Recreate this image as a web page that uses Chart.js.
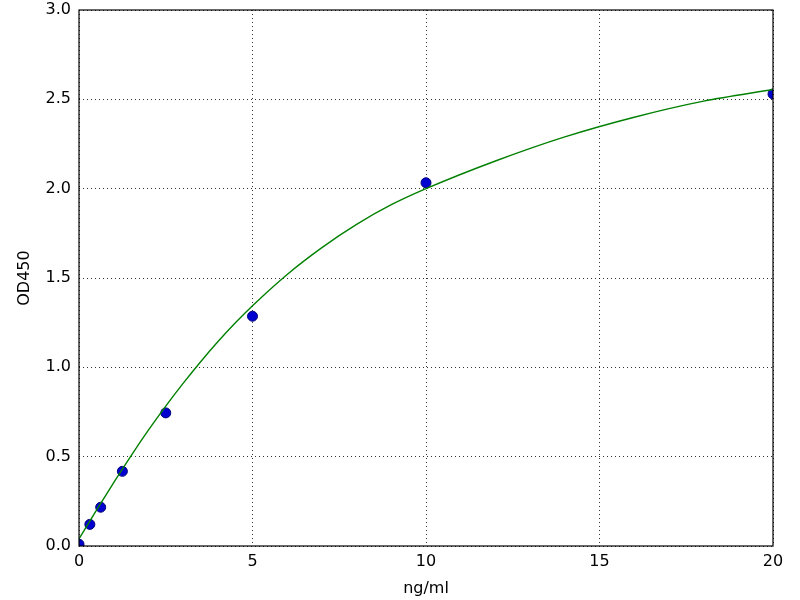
<!DOCTYPE html>
<html>
<head>
<meta charset="utf-8">
<script src="https://cdn.jsdelivr.net/npm/chart.js@4/dist/chart.umd.min.js"></script>
<style>
  html, body { margin: 0; padding: 0; background: #fff; }
  #wrap { width: 800px; height: 600px; }
</style>
</head>
<body>
<div id="wrap"><canvas id="stdCurve"></canvas></div>
<script>
// measured standards (ng/ml vs OD450)
const standardConc = [0, 0.3125, 0.625, 1.25, 2.5, 5, 10, 20];
const standardOD = [0.01, 0.121, 0.217, 0.418, 0.745, 1.286, 2.033, 2.53];

// fitted curve
const fitConc = [0, 0.5, 1, 1.5, 2, 2.5, 3, 3.5, 4, 4.5, 5, 6, 7, 8, 9, 10, 12, 14, 16, 18, 20];
const fitOD = [0.04, 0.20, 0.355, 0.505, 0.648, 0.783, 0.91, 1.03, 1.143, 1.248, 1.345, 1.52,
               1.67, 1.80, 1.91, 2.00, 2.155, 2.29, 2.40, 2.49, 2.555];

const xTicks = [0, 5, 10, 15, 20];
const yTicks = [0, 0.5, 1.0, 1.5, 2.0, 2.5, 3.0];

const tickFont = { family: "'DejaVu Sans', sans-serif", size: 16, lineHeight: 1.2 };

// black frame round the plot area, like matplotlib's spines
const framePlugin = {
    id: 'frame',
    afterDraw(chart) {
        const { ctx, chartArea: a } = chart;
        ctx.save();
        ctx.strokeStyle = '#000';
        ctx.lineWidth = 1.2;
        ctx.strokeRect(a.left, a.top, a.right - a.left, a.bottom - a.top);
        ctx.restore();
    }
};

new Chart(document.getElementById('stdCurve'), {
    type: 'scatter',
    data: {
        datasets: [
            {
                label: 'fit',
                data: fitConc.map((x, i) => ({ x: x, y: fitOD[i] })),
                showLine: true,
                borderColor: '#008000',
                borderWidth: 1.4,
                pointRadius: 0,
                cubicInterpolationMode: 'monotone',
                clip: 0,
                order: 1
            },
            {
                label: 'standards',
                data: standardConc.map((x, i) => ({ x: x, y: standardOD[i] })),
                backgroundColor: '#0000d0',
                borderColor: '#00007a',
                borderWidth: 1,
                pointRadius: 5,
                pointHoverRadius: 5,
                clip: 0,
                order: 2
            }
        ]
    },
    options: {
        responsive: true,
        maintainAspectRatio: false,
        animation: false,
        layout: { padding: { top: 10, right: 27, left: 0, bottom: 0 } },
        plugins: {
            legend: { display: false },
            tooltip: { enabled: false }
        },
        scales: {
            x: {
                type: 'linear',
                min: 0,
                max: 20,
                afterFit(scale) { scale.height = 54; },
                afterBuildTicks(scale) { scale.ticks = xTicks.map(v => ({ value: v })); },
                grid: {
                    color: '#000',
                    lineWidth: 0.8,
                    drawTicks: false
                },
                border: { display: false, dash: [1, 3] },
                ticks: {
                    font: tickFont,
                    color: '#000',
                    padding: 6,
                    callback: v => String(v)
                },
                title: {
                    display: true,
                    text: 'ng/ml',
                    color: '#000',
                    font: tickFont,
                    padding: { top: 0, bottom: 2 }
                }
            },
            y: {
                type: 'linear',
                min: 0,
                max: 3,
                afterFit(scale) {
                    scale.width = 79;
                    scale.paddingTop = 0;
                    scale.paddingBottom = 0;
                },
                afterBuildTicks(scale) { scale.ticks = yTicks.map(v => ({ value: v })); },
                grid: {
                    color: '#000',
                    lineWidth: 0.8,
                    drawTicks: false
                },
                border: { display: false, dash: [1, 3] },
                ticks: {
                    font: tickFont,
                    color: '#000',
                    padding: 8,
                    callback: v => v.toFixed(1)
                },
                title: {
                    display: true,
                    text: 'OD450',
                    color: '#000',
                    font: tickFont,
                    padding: { top: 15, bottom: 0 }
                }
            }
        }
    },
    plugins: [framePlugin]
});
</script>
</body>
</html>
